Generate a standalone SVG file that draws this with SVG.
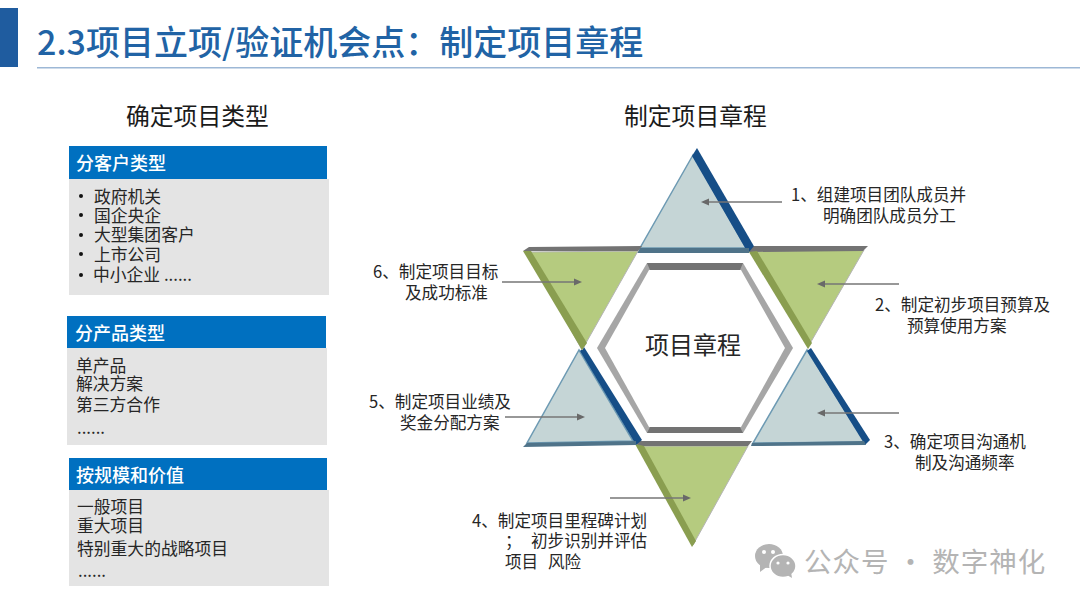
<svg xmlns="http://www.w3.org/2000/svg" width="1080" height="606" viewBox="0 0 1080 606">
<style>
text{font-family:"Noto Sans CJK SC","Noto Sans",sans-serif;fill:#262626}
.t{font-size:16.6px}
.b{font-size:16.8px}
.h{font-size:18px;font-weight:500;fill:#fff}
.hd{font-size:23.8px;fill:#1a1a1a}
.bar{fill:#0070c0}.body{fill:#e4e4e4}
.gt{fill:#c5d5d6;stroke:#6d9ab3;stroke-width:1.5}
.gn{fill:#b5cb7f;stroke:#b4b4b4;stroke-width:1}
.blue{fill:#164e87}.blue2{fill:#4f7389}.ol{fill:#8a9e50}.dk{fill:#737373}
.conn{stroke:#767676;stroke-width:1.4;fill:none;marker-end:url(#a)}
</style>
<defs><marker id="a" markerUnits="userSpaceOnUse" markerWidth="9" markerHeight="8" refX="1" refY="4" orient="auto-start-reverse" viewBox="0 0 9 8"><path d="M0 4L8 0.5V7.5Z" fill="#696969" transform="rotate(180 4.5 4)"/></marker></defs>
<rect width="1080" height="606" fill="#fff"/>
<g id="header">
<rect x="0" y="8" width="18" height="59" fill="#1f5c9f"/>
<rect x="37" y="67" width="1043" height="1.5" fill="#9db8d6"/>
<text x="37" y="55" style="font-size:34px;font-weight:500;fill:#2163a5">2.3项目立项/验证机会点：制定项目章程</text>
</g>
<text class="hd" x="126" y="125">确定项目类型</text>
<text class="hd" x="624" y="125">制定项目章程</text>
<g id="panel-customer">
<rect class="body" x="69" y="179" width="260" height="116"/>
<rect class="bar" x="69" y="146" width="258" height="33"/>
<text class="h" x="76" y="170">分客户类型</text>
<circle cx="81" cy="196" r="2" fill="#111"/><text class="b" x="94" y="203">政府机关</text>
<circle cx="81" cy="215" r="2" fill="#111"/><text class="b" x="94" y="222">国企央企</text>
<circle cx="81" cy="235" r="2" fill="#111"/><text class="b" x="94" y="241">大型集团客户</text>
<circle cx="81" cy="254" r="2" fill="#111"/><text class="b" x="94" y="261">上市公司</text>
<circle cx="81" cy="275" r="2" fill="#111"/><text class="b" x="93" y="281">中小企业 ......</text>
</g>
<g id="panel-product">
<rect class="body" x="67" y="348" width="260" height="97"/>
<rect class="bar" x="67" y="316" width="259" height="32"/>
<text class="h" x="75" y="340">分产品类型</text>
<text class="b" x="76" y="372">单产品</text>
<text class="b" x="76" y="390">解决方案</text>
<text class="b" x="76" y="411">第三方合作</text>
<text class="b" x="77" y="434">......</text>
</g>
<g id="panel-scale">
<rect class="body" x="69" y="490" width="260" height="96"/>
<rect class="bar" x="69" y="458" width="258" height="32"/>
<text class="h" x="76" y="482">按规模和价值</text>
<text class="b" x="77" y="513">一般项目</text>
<text class="b" x="77" y="532">重大项目</text>
<text class="b" x="77" y="555">特别重大的战略项目</text>
<text class="b" x="78" y="577">......</text>
</g>
<g id="hub">
<polygon fill="#a6a6a6" points="647,263 743,263 793,348 743,433 647,433 597,348"/>
<polygon fill="#fff" points="649,270 741,270 785,348 741,427 649,427 605,348"/>
<polygon class="dk" points="647,263 743,263 740,270 650,270"/>
<polygon class="dk" points="650,427 740,427 743,433 647,433"/>
<text x="645" y="354" style="font-size:24px">项目章程</text>
</g>
<g id="step-1">
<polygon class="gt" points="693,155 640,248 746,248"/>
<polygon class="blue" points="697,148 755,248 748,253 692,156"/>
<polygon class="blue2" points="640,248 749,248 749,253 637,253"/>
</g>
<g id="step-2">
<polygon class="gn" points="754,251 864,250 808,347"/>
<polygon class="dk" points="749,252 754,246 868,246 863,251"/>
<polygon class="ol" points="749,252 757,251 812,343 808,349"/>
</g>
<g id="step-3">
<polygon class="gt" points="807,350 865,442 753,443"/>
<polygon class="blue" points="811,348 870,440 865,445 807,351"/>
<polygon class="blue2" points="752,443 864,441 866,445 751,446"/>
</g>
<g id="step-4">
<polygon class="gn" points="640,446 748,446 693,545"/>
<polygon class="dk" points="635,441 752,441 748,446 638,446"/>
<polygon class="ol" points="635,444 644,446 696,541 692,547"/>
</g>
<g id="step-5">
<polygon class="gt" points="579,350 633,441 527,443"/>
<polygon class="blue" points="584,347 642,440 636,445 580,351"/>
<polygon class="blue2" points="527,443 636,441 636,445 523,447"/>
</g>
<g id="step-6">
<polygon class="gn" points="528,252 638,251 582,350"/>
<polygon class="dk" points="523,251 529,247 642,246 638,251"/>
<polygon class="ol" points="523,251 531,251 587,343 582,350"/>
</g>
<g id="connectors">
<line class="conn" x1="782" y1="202" x2="709" y2="202"/>
<line class="conn" x1="899" y1="284" x2="825" y2="284"/>
<line class="conn" x1="899" y1="413" x2="825" y2="413"/>
<line class="conn" x1="610" y1="498" x2="683" y2="498"/>
<line class="conn" x1="505" y1="417" x2="577" y2="417"/>
<line class="conn" x1="502" y1="282" x2="574" y2="282"/>
</g>
<g id="label-1"><text class="t" x="791" y="201">1、组建项目团队成员并</text><text class="t" x="823" y="222">明确团队成员分工</text></g>
<g id="label-2"><text class="t" x="875" y="311">2、制定初步项目预算及</text><text class="t" x="907" y="332">预算使用方案</text></g>
<g id="label-3"><text class="t" x="884" y="448">3、确定项目沟通机</text><text class="t" x="915" y="469">制及沟通频率</text></g>
<g id="label-4"><text class="t" x="472" y="527">4、制定项目里程碑计划</text><text class="t" x="505" y="547">；</text><text class="t" x="531" y="547">初步识别并评估</text><text class="t" x="505" y="568">项目</text><text class="t" x="548" y="568">风险</text></g>
<g id="label-5"><text class="t" x="369" y="408">5、制定项目业绩及</text><text class="t" x="400" y="429">奖金分配方案</text></g>
<g id="label-6"><text class="t" x="373" y="278">6、制定项目目标</text><text class="t" x="405" y="299">及成功标准</text></g>
<g id="watermark" fill="#b4b4b4">
<ellipse cx="769" cy="556" rx="14" ry="12"/>
<path d="M760 564L760 572L768 566Z"/>
<ellipse cx="783" cy="566" rx="13" ry="11.5" stroke="#fff" stroke-width="1.5"/>
<path d="M787 575L792 578L791 572Z"/>
<circle cx="764" cy="552" r="2" fill="#fff"/><circle cx="773" cy="552" r="2" fill="#fff"/>
<circle cx="778" cy="563" r="1.6" fill="#fff"/><circle cx="788" cy="563" r="1.6" fill="#fff"/>
<text x="804" y="572" style="font-size:27.5px;fill:#b4b4b4;letter-spacing:1px">公众号 · 数字神化</text>
</g>
</svg>
